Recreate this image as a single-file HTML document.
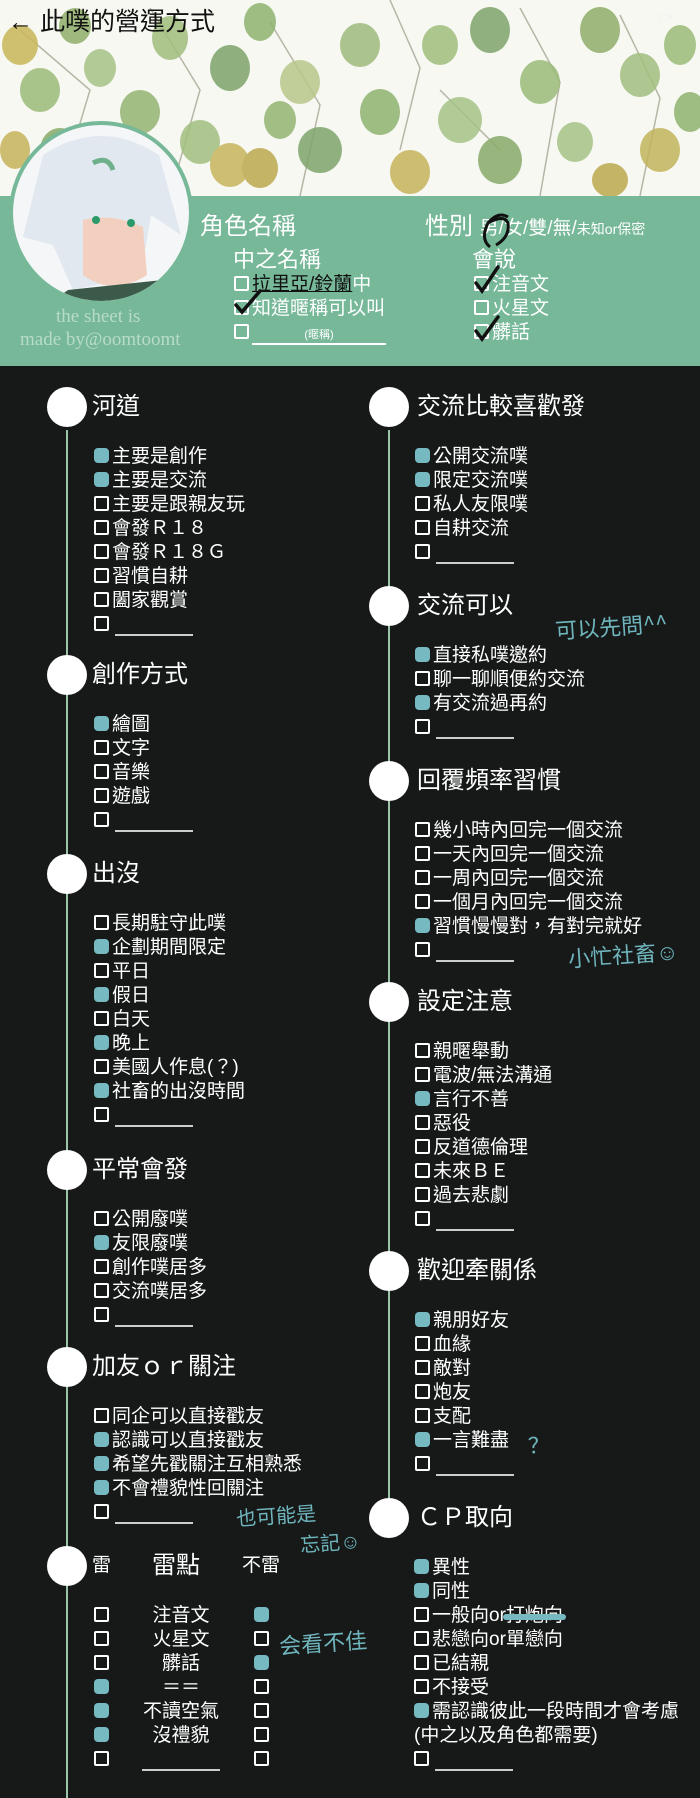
<!DOCTYPE html>
<html><head><meta charset="utf-8">
<style>
*{margin:0;padding:0;box-sizing:border-box}
body{width:700px;height:1798px;background:#171918;position:relative;overflow:hidden;font-family:"Liberation Sans","Noto Sans CJK TC","Noto Sans CJK SC",sans-serif;color:#fff}
.abs{position:absolute}
.sec{position:absolute;width:320px}
.c{position:absolute;left:0;top:0;width:40px;height:40px;border-radius:50%;background:#fff}
.t{position:absolute;left:45px;top:0;line-height:40px;font-size:24px;white-space:nowrap}
.it{position:absolute;left:47px;top:58px;font-size:19px;line-height:24px;white-space:nowrap}
.r .t{left:48px}.r .it{left:46px}
.b{display:inline-block;width:15px;height:15px;border:2px solid #fff;border-radius:2px;margin-right:3px;vertical-align:-1px}
.k{background:#76b9c1;border-color:#76b9c1;border-radius:4px}
.u{display:inline-block;width:78px;border-bottom:2px solid #ccc;height:14px;margin-left:3px;vertical-align:-6px}
.line{position:absolute;width:2px;background:#9cc4a8}
.hand{position:absolute;color:#6fb5bd;font-family:"WenQuanYi Zen Hei","Noto Sans CJK SC",sans-serif;font-size:22px;white-space:nowrap;transform:rotate(-4deg)}
</style></head><body>
<div class="abs" style="left:0;top:0;width:700px;height:196px;background:#f7f8f2;overflow:hidden">
<svg width="700" height="196" style="position:absolute;left:0;top:0">
<g stroke="#9b9a86" stroke-width="1.5" fill="none" opacity=".7">
<path d="M20 30 L90 90 L60 190"/><path d="M150 8 L200 90 L170 196"/><path d="M270 22 L320 105 L300 196"/><path d="M390 0 L420 68 L400 150"/><path d="M520 8 L560 82 L540 196"/><path d="M620 15 L660 98 L640 196"/><path d="M440 90 L500 150"/>
</g>
<g opacity=".85">
<ellipse cx="20" cy="45" rx="18" ry="20" fill="#c9b75a"/><ellipse cx="75" cy="26" rx="16" ry="18" fill="#8fae6a"/><ellipse cx="40" cy="90" rx="20" ry="22" fill="#9bbb78"/><ellipse cx="100" cy="68" rx="16" ry="19" fill="#a7c386"/><ellipse cx="140" cy="112" rx="20" ry="22" fill="#94b572"/><ellipse cx="60" cy="150" rx="20" ry="22" fill="#88aa6a"/><ellipse cx="15" cy="150" rx="15" ry="19" fill="#c6b35a"/>
<ellipse cx="170" cy="38" rx="18" ry="22" fill="#9fbe7c"/><ellipse cx="230" cy="68" rx="20" ry="23" fill="#7ea46a"/><ellipse cx="200" cy="142" rx="20" ry="22" fill="#a2bf80"/><ellipse cx="260" cy="22" rx="16" ry="19" fill="#8fb370"/><ellipse cx="150" cy="176" rx="20" ry="20" fill="#c2b45c"/>
<ellipse cx="300" cy="82" rx="20" ry="22" fill="#b8c78a"/><ellipse cx="320" cy="150" rx="22" ry="23" fill="#7fa56c"/><ellipse cx="280" cy="120" rx="16" ry="19" fill="#94b572"/><ellipse cx="360" cy="45" rx="20" ry="22" fill="#9ebb7c"/>
<ellipse cx="230" cy="165" rx="20" ry="22" fill="#c8b55c"/><ellipse cx="260" cy="168" rx="18" ry="20" fill="#bca94e"/>
<ellipse cx="380" cy="112" rx="20" ry="23" fill="#8fb370"/><ellipse cx="410" cy="172" rx="20" ry="22" fill="#c6b35a"/><ellipse cx="440" cy="45" rx="18" ry="20" fill="#9fbe7c"/><ellipse cx="460" cy="120" rx="22" ry="23" fill="#a6c386"/>
<ellipse cx="490" cy="30" rx="20" ry="23" fill="#7fa56c"/><ellipse cx="500" cy="160" rx="22" ry="24" fill="#88aa6a"/><ellipse cx="540" cy="82" rx="20" ry="22" fill="#9bbb78"/><ellipse cx="575" cy="142" rx="18" ry="20" fill="#a7c386"/>
<ellipse cx="600" cy="30" rx="20" ry="23" fill="#8fae6a"/><ellipse cx="640" cy="75" rx="20" ry="22" fill="#a2bf80"/><ellipse cx="680" cy="45" rx="16" ry="20" fill="#9bbb78"/><ellipse cx="660" cy="150" rx="20" ry="22" fill="#c2b45c"/><ellipse cx="610" cy="180" rx="18" ry="17" fill="#bca94e"/><ellipse cx="690" cy="112" rx="16" ry="20" fill="#8fb370"/>
</g></svg>
</div>
<div class="abs" style="left:8px;top:6px;font-size:25px;color:#111;line-height:32px">← 此噗的營運方式</div>
<div class="abs" style="left:660px;top:10px;font-size:12px;color:#eee">□×</div>
<div class="abs" style="left:0;top:196px;width:700px;height:170px;background:#76b898"></div>
<div class="abs" style="left:9px;top:121px;width:184px;height:184px;border-radius:50%;border:4px solid #76b898;background:#f4f6f8;overflow:hidden">
<svg width="176" height="176" style="position:absolute;left:0;top:0"><path d="M30 30 Q88 -8 146 30 L168 110 L138 90 L128 150 L60 165 L40 120 L10 112Z" fill="#e2e8ef"/><path d="M70 95 Q100 88 130 102 L134 150 Q100 172 70 150Z" fill="#f3cfc0"/><circle cx="83" cy="95" r="4" fill="#2a9a6a"/><circle cx="118" cy="98" r="4" fill="#2a9a6a"/><path d="M55 165 L150 155 L170 176 L40 176Z" fill="#3c5a4a"/><path d="M80 38 Q95 30 100 45" stroke="#6fb08c" stroke-width="5" fill="none"/></svg>
</div>
<div class="abs" style="left:56px;top:306px;font-family:'Liberation Serif',serif;font-size:19px;line-height:22px;color:#b8dcc6">the sheet is</div>
<div class="abs" style="left:20px;top:329px;font-family:'Liberation Serif',serif;font-size:19px;line-height:22px;color:#b8dcc6">made by@oomtoomt</div>
<div class="abs" style="left:200px;top:213px;font-size:24px;line-height:28px">角色名稱</div>
<div class="abs" style="left:425px;top:213px;font-size:24px;line-height:28px;white-space:nowrap">性別 <span style="font-size:19px">男/女/雙/無/</span><span style="font-size:14px">未知or保密</span></div>
<svg class="abs" style="left:478px;top:211px" width="36" height="38"><path d="M30 6 Q20 0 10 12 Q2 28 12 36 M10 12 Q26 3 30 12 Q32 26 18 34" stroke="#111" stroke-width="3" fill="none"/></svg>
<div class="abs" style="left:233px;top:246px;font-size:22px;line-height:28px">中之名稱</div>
<div class="abs" style="left:472px;top:246px;font-size:22px;line-height:28px">會說</div>
<div class="abs" style="left:234px;top:273px;font-size:19px;line-height:24px;white-space:nowrap"><span class="b"></span><span style="color:#111;text-decoration:underline">拉里亞/鈴蘭</span>中<br><span class="b"></span>知道暱稱可以叫<br><span class="b"></span><span style="display:inline-block;width:134px;border-bottom:2px solid #fff;text-align:center;font-size:11px;line-height:16px">(暱稱)</span></div>
<div class="abs" style="left:474px;top:273px;font-size:19px;line-height:24px;white-space:nowrap"><span class="b"></span>注音文<br><span class="b"></span>火星文<br><span class="b"></span>髒話</div>
<svg class="abs" style="left:228px;top:255px" width="300" height="90" fill="none" stroke="#111" stroke-width="3.5" stroke-linecap="round"><path d="M8 50 L14 57 L32 36"/><path d="M248 28 L254 36 L270 12"/><path d="M248 76 L254 84 L270 62"/></svg>
<div class="line" style="left:66px;top:430px;height:1368px"></div>
<div class="line" style="left:388px;top:430px;height:1080px"></div>
<div class="sec" style="left:47px;top:387px"><div class="c"></div><div class="t">河道</div><div class="it"><span class="b k"></span>主要是創作<br><span class="b k"></span>主要是交流<br><span class="b"></span>主要是跟親友玩<br><span class="b"></span>會發Ｒ１８<br><span class="b"></span>會發Ｒ１８Ｇ<br><span class="b"></span>習慣自耕<br><span class="b"></span>闔家觀賞<br><span class="b"></span><span class="u"></span></div></div>
<div class="sec" style="left:47px;top:655px"><div class="c"></div><div class="t">創作方式</div><div class="it"><span class="b k"></span>繪圖<br><span class="b"></span>文字<br><span class="b"></span>音樂<br><span class="b"></span>遊戲<br><span class="b"></span><span class="u"></span></div></div>
<div class="sec" style="left:47px;top:854px"><div class="c"></div><div class="t">出沒</div><div class="it"><span class="b"></span>長期駐守此噗<br><span class="b k"></span>企劃期間限定<br><span class="b"></span>平日<br><span class="b k"></span>假日<br><span class="b"></span>白天<br><span class="b k"></span>晚上<br><span class="b"></span>美國人作息(？)<br><span class="b k"></span>社畜的出沒時間<br><span class="b"></span><span class="u"></span></div></div>
<div class="sec" style="left:47px;top:1150px"><div class="c"></div><div class="t">平常會發</div><div class="it"><span class="b"></span>公開廢噗<br><span class="b k"></span>友限廢噗<br><span class="b"></span>創作噗居多<br><span class="b"></span>交流噗居多<br><span class="b"></span><span class="u"></span></div></div>
<div class="sec" style="left:47px;top:1347px"><div class="c"></div><div class="t">加友ｏｒ關注</div><div class="it"><span class="b"></span>同企可以直接戳友<br><span class="b k"></span>認識可以直接戳友<br><span class="b k"></span>希望先戳關注互相熟悉<br><span class="b k"></span>不會禮貌性回關注<br><span class="b"></span><span class="u"></span></div></div>
<div class="sec" style="left:47px;top:1546px"><div class="c"></div><div class="t" style="font-size:19px">雷</div>
<div class="abs" style="left:105px;top:0;line-height:40px;font-size:24px">雷點</div>
<div class="abs" style="left:195px;top:0;line-height:40px;font-size:19px">不雷</div>
<div class="abs" style="left:47px;top:58px;font-size:19px;line-height:24px"><span class="b"></span><br><span class="b"></span><br><span class="b"></span><br><span class="b k"></span><br><span class="b k"></span><br><span class="b k"></span><br><span class="b"></span></div>
<div class="abs" style="left:90px;top:58px;width:88px;text-align:center;font-size:19px;line-height:24px;white-space:nowrap">注音文<br>火星文<br>髒話<br>＝＝<br>不讀空氣<br>沒禮貌<br><span class="u" style="margin:0"></span></div>
<div class="abs" style="left:207px;top:58px;font-size:19px;line-height:24px"><span class="b k"></span><br><span class="b"></span><br><span class="b k"></span><br><span class="b"></span><br><span class="b"></span><br><span class="b"></span><br><span class="b"></span></div>
</div>
<div class="sec r" style="left:369px;top:387px"><div class="c"></div><div class="t">交流比較喜歡發</div><div class="it"><span class="b k"></span>公開交流噗<br><span class="b k"></span>限定交流噗<br><span class="b"></span>私人友限噗<br><span class="b"></span>自耕交流<br><span class="b"></span><span class="u"></span></div></div>
<div class="sec r" style="left:369px;top:586px"><div class="c"></div><div class="t">交流可以</div><div class="it"><span class="b k"></span>直接私噗邀約<br><span class="b"></span>聊一聊順便約交流<br><span class="b k"></span>有交流過再約<br><span class="b"></span><span class="u"></span></div></div>
<div class="sec r" style="left:369px;top:761px"><div class="c"></div><div class="t">回覆頻率習慣</div><div class="it"><span class="b"></span>幾小時內回完一個交流<br><span class="b"></span>一天內回完一個交流<br><span class="b"></span>一周內回完一個交流<br><span class="b"></span>一個月內回完一個交流<br><span class="b k"></span>習慣慢慢對，有對完就好<br><span class="b"></span><span class="u"></span></div></div>
<div class="sec r" style="left:369px;top:982px"><div class="c"></div><div class="t">設定注意</div><div class="it"><span class="b"></span>親暱舉動<br><span class="b"></span>電波/無法溝通<br><span class="b k"></span>言行不善<br><span class="b"></span>惡役<br><span class="b"></span>反道德倫理<br><span class="b"></span>未來ＢＥ<br><span class="b"></span>過去悲劇<br><span class="b"></span><span class="u"></span></div></div>
<div class="sec r" style="left:369px;top:1251px"><div class="c"></div><div class="t">歡迎牽關係</div><div class="it"><span class="b k"></span>親朋好友<br><span class="b"></span>血緣<br><span class="b"></span>敵對<br><span class="b"></span>炮友<br><span class="b"></span>支配<br><span class="b k"></span>一言難盡<br><span class="b"></span><span class="u"></span></div></div>
<div class="sec r" style="left:369px;top:1498px"><div class="c"></div><div class="t">ＣＰ取向</div><div class="it" style="left:45px"><span class="b k"></span>異性<br><span class="b k"></span>同性<br><span class="b"></span>一般向or<span style="position:relative">打炮向<span style="position:absolute;left:-3px;right:-3px;top:9px;height:6px;border-radius:3px;background:#76b9c1"></span></span><br><span class="b"></span>悲戀向or單戀向<br><span class="b"></span>已結親<br><span class="b"></span>不接受<br><span class="b k"></span>需認識彼此一段時間才會考慮<br>(中之以及角色都需要)<br><span class="b"></span><span class="u"></span></div></div>
<div class="hand" style="left:555px;top:610px">可以先問^^</div>
<div class="hand" style="left:568px;top:938px">小忙社畜☺</div>
<div class="hand" style="left:528px;top:1428px">？</div>
<div class="hand" style="left:236px;top:1500px;font-size:20px">也可能是</div>
<div class="hand" style="left:300px;top:1527px;font-size:20px">忘記☺</div>
<div class="hand" style="left:279px;top:1626px">会看不佳</div>
</body></html>
